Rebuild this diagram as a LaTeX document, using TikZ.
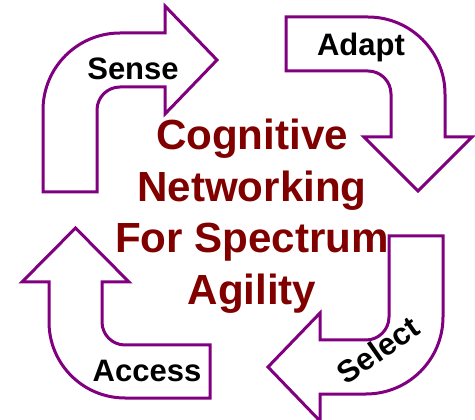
\documentclass[tikz,border=0pt]{standalone}
\usepackage{fontspec}
\setmainfont{Liberation Sans}
\definecolor{arrowpurple}{HTML}{800080}
\definecolor{titlered}{HTML}{800000}
\begin{document}
\begin{tikzpicture}[x=0.75pt,y=-0.75pt,
  bentarrow/.style={draw=arrowpurple,line width=2.25pt,fill=white,line join=miter},
  steplabel/.style={font=\bfseries\fontsize{23.25}{28}\selectfont,text=black,inner sep=0pt},
  titletext/.style={font=\bfseries\fontsize{31.6}{38.6}\selectfont,text=titlered,align=center,inner sep=0pt}]
\useasboundingbox[fill=white] (0,0) rectangle (475,420);
% Sense (up then right)
\draw[bentarrow] (43,192) -- (97,192) -- (97,110)
  arc[start angle=180,end angle=90,radius=17.25pt] -- (165,87) -- (165,114)
  -- (217,60) -- (165,6) -- (165,33) -- (120,33)
  arc[start angle=90,end angle=180,radius=57.75pt] -- cycle;
% Adapt (right then down)
\draw[bentarrow] (286,17) -- (368,17)
  arc[start angle=90,end angle=0,radius=57.75pt] -- (445,137) -- (472,137)
  -- (418,191) -- (364,137) -- (391,137) -- (391,94)
  arc[start angle=0,end angle=90,radius=17.25pt] -- (286,71) -- cycle;
% Select (down then left)
\draw[bentarrow] (389,236) -- (443,236) -- (443,317)
  arc[start angle=0,end angle=-90,radius=57.75pt] -- (320,394) -- (320,421)
  -- (268,367) -- (320,313) -- (320,340) -- (366,340)
  arc[start angle=-90,end angle=0,radius=17.25pt] -- cycle;
% Access (left then up)
\draw[bentarrow] (210,345) -- (210,398) -- (125,398)
  arc[start angle=270,end angle=180,radius=57pt] -- (49,282) -- (22,282)
  -- (75.5,228) -- (129,282) -- (102,282) -- (102,322)
  arc[start angle=180,end angle=270,radius=17.25pt] -- cycle;
% labels
\node[steplabel,anchor=base] (sense) at (133,80) {Sense};
\node[steplabel,anchor=base] (adapt) at (361,56) {Adapt};
\node[steplabel,anchor=base] (access) at (147,382) {Access};
\node[steplabel,rotate=35] (select) at (378,350) {Select};
\node[titletext,anchor=north] (title) at (252,119) {Cognitive\\Networking\\For Spectrum\\Agility};
\end{tikzpicture}
\end{document}
